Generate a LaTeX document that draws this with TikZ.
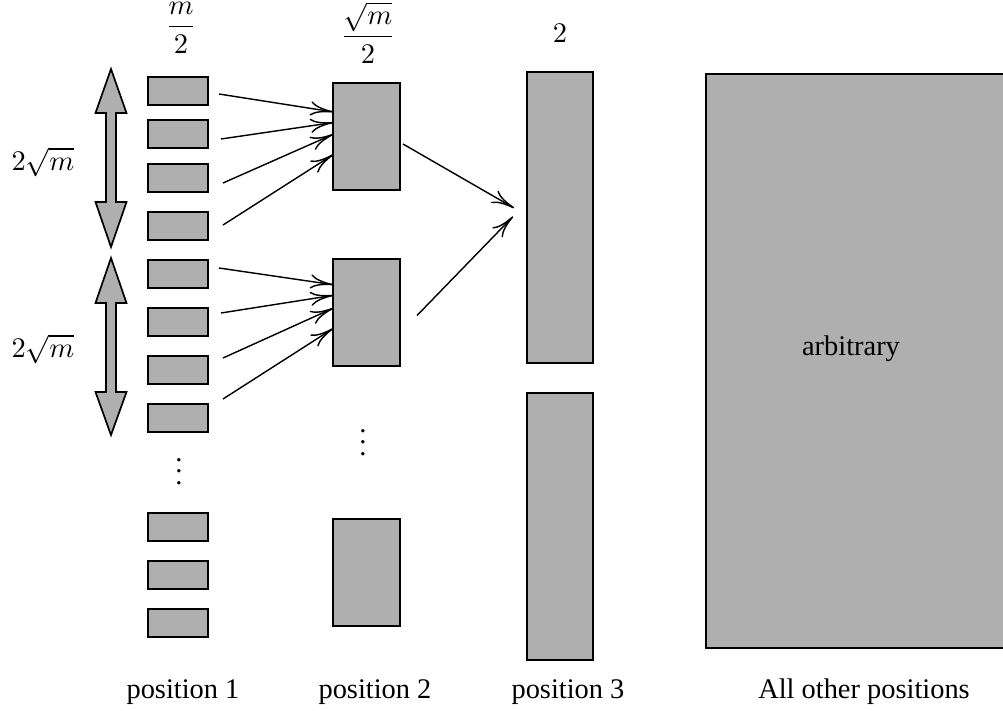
\documentclass[tikz,border=0pt]{standalone}
\usepackage[no-math]{fontspec}
\setmainfont{Liberation Serif}
\usetikzlibrary{arrows.meta,calc}
\definecolor{boxgray}{RGB}{175,175,175}
\begin{document}
\begin{tikzpicture}[x=0.352pt,y=-0.352pt,
  blk/.style={draw,fill=boxgray,line width=0.6pt,inner sep=0pt,outer sep=0pt},
  sz/.style 2 args={minimum width=#1*0.352pt,minimum height=#2*0.352pt},
  conn/.style={-{To[length=8pt,width=5pt]},line width=0.5pt},
  dbl/.style={draw,fill=boxgray,line width=0.6pt,line join=miter},
  lbl/.style={inner sep=0pt,anchor=base}]
\useasboundingbox (0,0) rectangle (1003,710);

% position 1
\foreach \n/\y in {1/91,2/134,3/178,4/226,5/274,6/322,7/370,8/418,9/527,10/575,11/623}
  \node[blk,sz={60}{28}] (a\n) at (178,\y) {};
% position 2
\node[blk,sz={67}{107}] (b1) at (366.5,136.5) {};
\node[blk,sz={67}{107}] (b2) at (366.5,312.5) {};
\node[blk,sz={67}{107}] (b3) at (366.5,572.5) {};
% position 3
\node[blk,sz={66}{291}] (c1) at (560,217.5) {};
\node[blk,sz={66}{267}] (c2) at (560,526.5) {};
% all other positions
\node[blk,sz={299}{574}] (big) at (855.5,361) {};
\node[inner sep=0pt] (arb) at (851,349) {arbitrary};

% double arrows
\draw[dbl] (111,69) -- (126.5,113) -- (116,113) -- (116,202) -- (126.5,202) -- (111,247)
  -- (95.5,202) -- (106,202) -- (106,113) -- (95.5,113) -- cycle;
\draw[dbl] (111,258) -- (126.5,303) -- (116,303) -- (116,392) -- (126.5,392) -- (111,435)
  -- (95.5,392) -- (106,392) -- (106,303) -- (95.5,303) -- cycle;

% labels
\node[lbl] (l1) at (43,170) {$2\sqrt{m}$};
\node[lbl] (l2) at (43,357) {$2\sqrt{m}$};
\node[lbl] (h1) at (181,34) {$\displaystyle\frac{m}{2}$};
\node[lbl] (h2) at (368,44) {$\displaystyle\frac{\sqrt{m}}{2}$};
\node[lbl] (h3) at (560,42) {$2$};
\node[lbl] (d1) at (179,484) {$\vdots$};
\node[lbl] (d2) at (363,455) {$\vdots$};
\node[lbl] (p1) at (183,698) {position 1};
\node[lbl] (p2) at (375,698) {position 2};
\node[lbl] (p3) at (568,698) {position 3};
\node[lbl] (p4) at (864,698) {All other positions};

% arrows position 1 -> position 2
\foreach \s/\t/\f/\dx/\dy in {a1/b1/0.27/11/3, a2/b1/0.37/13/5, a3/b1/0.48/15/5, a4/b1/0.67/15/-1,
  a5/b2/0.24/11/-6, a6/b2/0.34/13/-9, a7/b2/0.46/15/-12, a8/b2/0.65/15/-19}
  \draw[conn] ($(\s.east)+(\dx,\dy)$) -- ($(\t.north west)!\f!(\t.south west)$);

% arrows position 2 -> position 3
\coordinate (t1) at ($(c1.west)+(-13,-9.5)$);
\coordinate (t2) at ($(c1.west)+(-14,-1)$);
\draw[conn] ($(b1.east)+(3,7.5)$) -- (t1);
\draw[conn] ($(b2.east)+(17,3)$) -- (t2);
\end{tikzpicture}
\end{document}
